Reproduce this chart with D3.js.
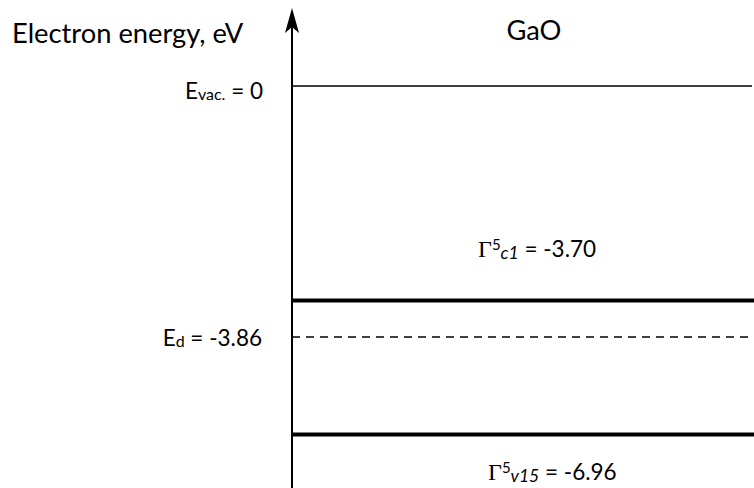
<!DOCTYPE html>
<html><head><meta charset="utf-8">
<script src="https://cdn.jsdelivr.net/npm/d3@7"></script>
<style>body{margin:0;background:#fff}svg{display:block}</style>
</head><body>
<script>
// Energy levels (eV)
const levelNames = ["vac", "c1", "d", "v15"];
const levelValues = [0, -3.70, -3.86, -6.96];
const levelStyles = ["thin", "thick", "dashed", "thick"];
const axisTitle = "Electron energy, eV";
const materialName = "GaO";

const W = 754, H = 488;
const svg = d3.select("body").append("svg").attr("width", W).attr("height", H);

// schematic (non-uniform) energy scale
const y = d3.scaleLinear().domain([0.35, 0, -3.70, -3.86, -6.96, -7.0])
  .range([66, 86, 300.5, 337, 434.5, 436]);
const x = d3.scaleLinear().domain([0, 1]).range([292, 754]);

const ink = "#000";
const sans = "Lato, 'Open Sans', sans-serif";
const serif = "'Liberation Serif', 'DejaVu Serif', serif";
const fmt = v => v === 0 ? "0" : v.toFixed(2);

// Levels
const widths = {thin: 1.5, thick: 4, dashed: 1.4};
svg.selectAll("line.level").data(levelValues).join("line")
  .attr("class", "level")
  .attr("x1", x(0)).attr("x2", (d, i) => levelStyles[i] === "thin" ? x(1) - 2 : x(1))
  .attr("y1", d => y(d)).attr("y2", d => y(d))
  .attr("stroke", ink)
  .attr("stroke-width", (d, i) => widths[levelStyles[i]])
  .attr("stroke-dasharray", (d, i) => levelStyles[i] === "dashed" ? "8,6" : null);

// Vertical axis with arrow
svg.append("line").attr("x1", x(0)).attr("x2", x(0)).attr("y1", 26).attr("y2", H)
  .attr("stroke", ink).attr("stroke-width", 2);
svg.append("path")
  .attr("d", `M${x(0)},8 L${x(0)+7},33 L${x(0)},27 L${x(0)-7},33 Z`)
  .attr("fill", ink);

// Titles
svg.append("text").attr("x", 12).attr("y", 43).attr("font-family", sans)
  .attr("font-size", 27.3).text(axisTitle);
svg.append("text").attr("x", 534).attr("y", 40).attr("text-anchor", "middle")
  .attr("font-family", sans).attr("font-size", 27.3).text(materialName);

// Labels
function label(xp, yp, anchor, parts) {
  const t = svg.append("text").attr("x", xp).attr("y", yp).attr("text-anchor", anchor)
    .attr("font-family", sans).attr("font-size", 22.5);
  parts.forEach(p => {
    const s = t.append("tspan").text(p.t);
    if (p.f) s.attr("font-family", p.f);
    if (p.fs) s.attr("font-size", p.fs);
    if (p.dy) s.attr("dy", p.dy);
    if (p.it) s.attr("font-style", "italic");
  });
  return t;
}
label(263, y(levelValues[0]) + 13, "end", [
  {t: "E"}, {t: "vac.", fs: 16, dy: 1}, {t: " = " + fmt(levelValues[0]), dy: -1}]);
label(262, y(levelValues[2]) + 9, "end", [
  {t: "E"}, {t: levelNames[2], fs: 16, dy: 1}, {t: " = " + fmt(levelValues[2]), dy: -1}]);
label(478, y(levelValues[1]) - 43.5, "start", [
  {t: "Γ", f: serif, fs: 24}, {t: "5", fs: 15, dy: -7}, {t: levelNames[1], fs: 17.5, it: true, dy: 9},
  {t: " = " + fmt(levelValues[1]), dy: -2}]);
label(488, y(levelValues[3]) + 45.5, "start", [
  {t: "Γ", f: serif, fs: 24}, {t: "5", fs: 15, dy: -7}, {t: levelNames[3], fs: 17.5, it: true, dy: 9},
  {t: " = " + fmt(levelValues[3]), dy: -2}]);
</script>
</body></html>
